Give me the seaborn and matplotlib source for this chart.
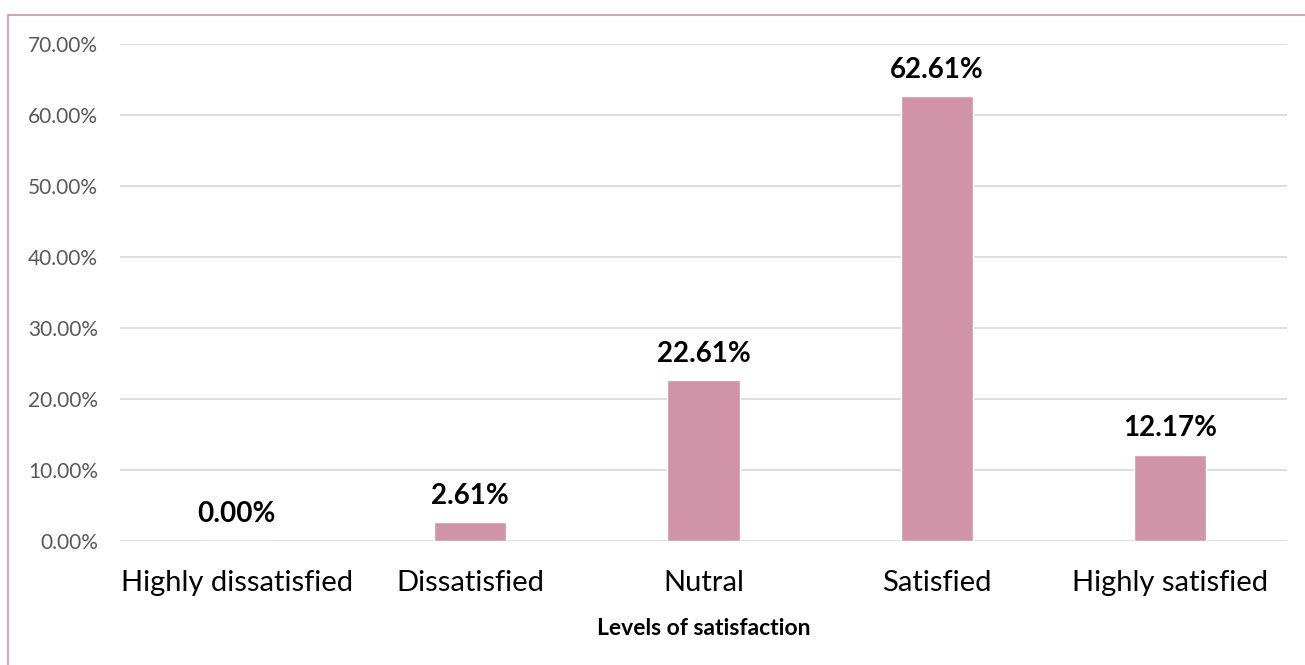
import pandas as pd
import seaborn as sns
import matplotlib.pyplot as plt
from matplotlib.patches import Rectangle
from matplotlib.ticker import PercentFormatter

# data
levels = ['Highly dissatisfied', 'Dissatisfied', 'Nutral', 'Satisfied', 'Highly satisfied']
shares = [0.00, 2.61, 22.61, 62.61, 12.17]
yticks = [0, 10, 20, 30, 40, 50, 60, 70]

df = pd.DataFrame({'level': levels, 'share': shares})

sns.set_theme(style='white')
plt.rcParams['font.family'] = ['Lato', 'DejaVu Sans']

fig = plt.figure(figsize=(13.05, 6.65), dpi=100)
ax = fig.add_axes([0.092, 0.1865, 0.894, 0.7473])

sns.barplot(data=df, x='level', y='share', color='#D093A8', saturation=1,
            width=0.31, ax=ax)

ax.set_ylim(0, 70)
ax.set_yticks(yticks)
ax.yaxis.set_major_formatter(PercentFormatter(decimals=2))
ax.grid(axis='y', color='#D9D9D9', linewidth=1.2)
ax.set_axisbelow(True)
for s in ax.spines.values():
    s.set_visible(False)
ax.tick_params(axis='y', labelsize=15, labelcolor='#595959', length=0, pad=16)
ax.tick_params(axis='x', labelsize=21, labelcolor='black', length=0, pad=21)

# value labels on top of bars
for c in ax.containers:
    ax.bar_label(c, labels=[f'{v:.2f}%' for v in df['share']], padding=10,
                 fontsize=20, fontweight='bold', color='black')

ax.set_xlabel('Levels of satisfaction', fontsize=16.5, fontweight='bold',
              labelpad=16, color='black')
ax.set_ylabel('')

# chart border (pink), only top and left edges fall inside the image
fig.patches.append(Rectangle((8 / 1305, -0.1), 1.2, 1 - 15 / 665 + 0.1,
                             transform=fig.transFigure, fill=False,
                             edgecolor='#D88FA6', linewidth=1.2))

plt.savefig('out.png', dpi=100)
